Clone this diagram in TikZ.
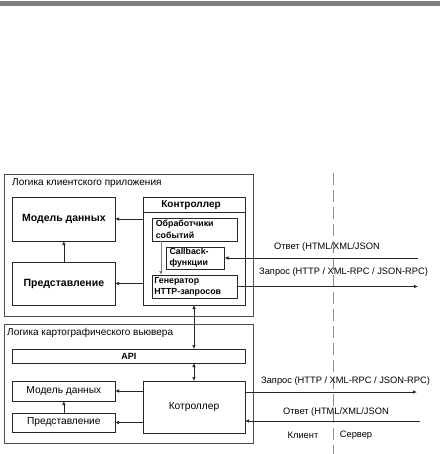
\documentclass[tikz,border=0pt]{standalone}
\usepackage{fontspec}
\setmainfont{Liberation Sans}
\usetikzlibrary{arrows.meta}
\begin{document}
\begin{tikzpicture}[x=1pt,y=-1pt,
  box/.style={draw=black!85,line width=0.8pt,fill=white,inner sep=0pt,outer sep=0pt},
  outerbox/.style={draw=black!70,line width=0.8pt,inner sep=0pt,outer sep=0pt},
  lbl/.style={font=\fontsize{9.3}{11}\selectfont,inner sep=0pt},
  ttl/.style={font=\fontsize{10}{12}\selectfont,inner sep=0pt},
  blbl/.style={font=\bfseries\fontsize{10}{12}\selectfont,inner sep=0pt},
  inner/.style={box,align=left,font=\bfseries\fontsize{8.8}{12}\selectfont},
  arr/.style={-{Latex[length=4pt,width=3.5pt]},line width=0.7pt,black!85},
  garr/.style={-{Latex[length=4pt,width=3.5pt]},line width=0.7pt,black!50},
  darr/.style={{Latex[length=4pt,width=3.5pt]}-{Latex[length=4pt,width=3.5pt]},line width=0.7pt,black!85},
  sep/.style={black!45,line width=0.6pt,dash pattern=on 12pt off 5pt}]
\useasboundingbox (0,0) rectangle (440,454);
\fill[black!50] (0,1) rectangle (440,6);
% outer boxes
\node[outerbox,minimum width=249pt,minimum height=142pt] (outer1) at (128.5,245) {};
\node[outerbox,minimum width=249pt,minimum height=119pt] (outer2) at (128.5,383.5) {};
\node[ttl,anchor=west] (t1) at (12,183) {Логика клиентского приложения};
\node[ttl,anchor=west] (t2) at (7,333) {Логика картографического вьювера};
% top section
\node[box,minimum width=102.3pt,minimum height=44pt,font=\bfseries\fontsize{10.5}{12}\selectfont] (model1) at (63.85,219) {Модель данных};
\node[box,minimum width=102.3pt,minimum height=43pt,font=\bfseries\fontsize{10.5}{12}\selectfont] (pred1) at (63.85,283.5) {Представление};
\node[box,minimum width=102pt,minimum height=108pt] (ctrl1) at (194,251) {};
\node[blbl] (ctrl1t) at (191,205) {Контроллер};
\draw[black!85,line width=0.8pt] (ctrl1.west |- 0,212) coordinate (cl) -- (ctrl1.east |- cl);
\node[inner,minimum width=84.3pt,minimum height=23pt,text width=78pt,inner xsep=3pt] (obr) at (194.85,229.5) {Обработчики\\событий};
\node[inner,minimum width=57pt,minimum height=22pt,text width=52pt,inner xsep=3pt,font=\bfseries\fontsize{8.8}{11}\selectfont] (cb) at (195.5,258) {Callback-\\функции};
\node[inner,minimum width=84.3pt,minimum height=23pt,text width=81pt,inner xsep=1.6pt,font=\bfseries\fontsize{8.8}{11}\selectfont] (gen) at (194.85,286.5) {Генератор\\HTTP-запросов};
% bottom section
\node[box,minimum width=232.3pt,minimum height=14pt,font=\bfseries\fontsize{9}{11}\selectfont] (api) at (128.85,356) {API};
\node[box,minimum width=102.3pt,minimum height=20pt,font=\fontsize{10.2}{11}\selectfont] (model2) at (63.85,391) {Модель данных};
\node[box,minimum width=102.3pt,minimum height=19pt,font=\fontsize{10.2}{11}\selectfont] (pred2) at (63.85,422.5) {Представление};
\node[box,minimum width=102pt,minimum height=52pt,font=\fontsize{10.2}{11}\selectfont] (ctrl2) at (194,407) {Котроллер};
% separator
\coordinate (d1) at (333,173);
\coordinate (d2) at (333,454);
\draw[sep] (d1) -- (d2);
% connectors top
\draw[arr] (ctrl1.west |- model1.east) -- (model1.east);
\draw[arr] (ctrl1.west |- pred1.east) -- (pred1.east);
\draw[arr] (pred1.north) -- (model1.south);
\draw[garr] ([xshift=-34pt]obr.south) -- ([xshift=-34pt]gen.north);
\coordinate (r1) at (418,258);
\draw[arr] (r1) -- (cb.east);
\coordinate (q1) at (418,284);
\draw[arr] (gen.east) -- (gen.east -| q1);
\draw[darr] (ctrl1.south) -- (ctrl1.south |- api.north);
% connectors bottom
\draw[darr] (api.south -| ctrl2.north) -- (ctrl2.north);
\draw[arr] (ctrl2.west |- model2.east) -- (model2.east);
\draw[arr] (ctrl2.west |- pred2.east) -- (pred2.east);
\draw[arr] (pred2.north) -- (model2.south);
\coordinate (q2) at (417,392);
\draw[arr] ([yshift=15pt]ctrl2.east) -- ([yshift=15pt]ctrl2.east -| q2);
\coordinate (r2) at (420,421);
\draw[arr] (r2) -- (r2 -| ctrl2.east);
% labels
\node[lbl,anchor=west] (l1) at (274,247) {Ответ (HTML/XML/JSON};
\node[lbl,anchor=west] (l2) at (259,272) {Запрос (HTTP / XML-RPC / JSON-RPC)};
\node[lbl,anchor=west] (l3) at (261,381) {Запрос (HTTP / XML-RPC / JSON-RPC)};
\node[lbl,anchor=west] (l4) at (283,412) {Ответ (HTML/XML/JSON};
\node[lbl] (kl) at (303,435) {Клиент};
\node[lbl] (sv) at (356,435) {Сервер};
\end{tikzpicture}
\end{document}
